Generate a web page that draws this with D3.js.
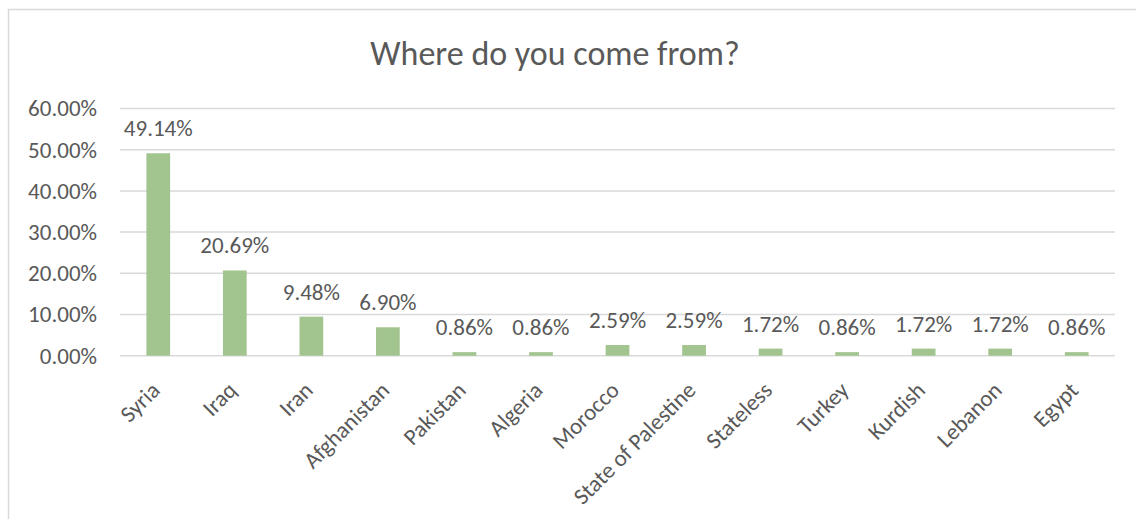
<!DOCTYPE html>
<html>
<head>
<meta charset="utf-8">
<script src="https://cdn.jsdelivr.net/npm/d3@7"></script>
<style>
  html, body { margin: 0; padding: 0; background: #fff; }
  svg { display: block; }
  text { font-family: Carlito, Calibri, "Open Sans", sans-serif; fill: #595959; }
</style>
</head>
<body>
<svg id="chart" width="1136" height="519"></svg>
<script>
// Country of origin, share of respondents (%)
const categories = ["Syria", "Iraq", "Iran", "Afghanistan", "Pakistan", "Algeria", "Morocco",
  "State of Palestine", "Stateless", "Turkey", "Kurdish", "Lebanon", "Egypt"];
const shares = [49.14, 20.69, 9.48, 6.90, 0.86, 0.86, 2.59, 2.59, 1.72, 0.86, 1.72, 1.72, 0.86];
const yTicks = [0, 10, 20, 30, 40, 50, 60];
const chartTitle = "Where do you come from?";

const labelSize = 23;
const titleSize = 34;

const svg = d3.select("#chart");

// chart frame (runs off the bottom and right edges)
svg.append("rect")
  .attr("x", 8.5).attr("y", 9.5)
  .attr("width", 1140).attr("height", 520)
  .attr("fill", "#fff")
  .attr("stroke", "#d9d9d9").attr("stroke-width", 1.5);

const plot = { left: 120, right: 1115, top: 108.5, bottom: 355.7 };

const x = d3.scaleBand()
  .domain(categories)
  .range([plot.left, plot.right])
  .paddingInner(0.69).paddingOuter(0.345);

const y = d3.scaleLinear()
  .domain([0, 60])
  .range([plot.bottom, plot.top]);

// gridlines
svg.append("g")
  .selectAll("line")
  .data(yTicks)
  .join("line")
  .attr("x1", plot.left).attr("x2", plot.right)
  .attr("y1", d => y(d)).attr("y2", d => y(d))
  .attr("stroke", "#d9d9d9").attr("stroke-width", 1.5);

// y axis labels
const yAxis = d3.axisLeft(y)
  .tickValues(yTicks)
  .tickSize(0)
  .tickPadding(0)
  .tickFormat(d => d3.format(".2f")(d) + "%");
svg.append("g")
  .attr("transform", `translate(97,0)`)
  .call(yAxis)
  .call(g => g.select(".domain").remove())
  .call(g => g.selectAll("text")
    .attr("font-size", labelSize)
    .attr("fill", "#595959")
    .style("font-family", null));

// bars
svg.append("g")
  .selectAll("rect")
  .data(categories)
  .join("rect")
  .attr("x", d => x(d))
  .attr("width", x.bandwidth())
  .attr("y", (d, i) => y(shares[i]))
  .attr("height", (d, i) => y(0) - y(shares[i]))
  .attr("fill", "#a2c48f");

// value labels
svg.append("g")
  .selectAll("text")
  .data(categories)
  .join("text")
  .attr("x", d => x(d) + x.bandwidth() / 2)
  .attr("y", (d, i) => y(shares[i]) - 17)
  .attr("text-anchor", "middle")
  .attr("font-size", labelSize)
  .text((d, i) => d3.format(".2f")(shares[i]) + "%");

// category labels, rotated
const xAxis = d3.axisBottom(x).tickSize(0).tickPadding(0);
svg.append("g")
  .attr("transform", `translate(0,${plot.bottom})`)
  .call(xAxis)
  .call(g => g.select(".domain").remove())
  .call(g => g.selectAll("text")
    .attr("font-size", labelSize)
    .attr("fill", "#595959")
    .style("font-family", null)
    .attr("text-anchor", "end")
    .attr("dy", null)
    .attr("y", 0)
    .attr("transform", "translate(3,36) rotate(-45)"));

// title
svg.append("text")
  .attr("x", 555).attr("y", 65)
  .attr("text-anchor", "middle")
  .attr("font-size", titleSize)
  .text(chartTitle);
</script>
</body>
</html>
